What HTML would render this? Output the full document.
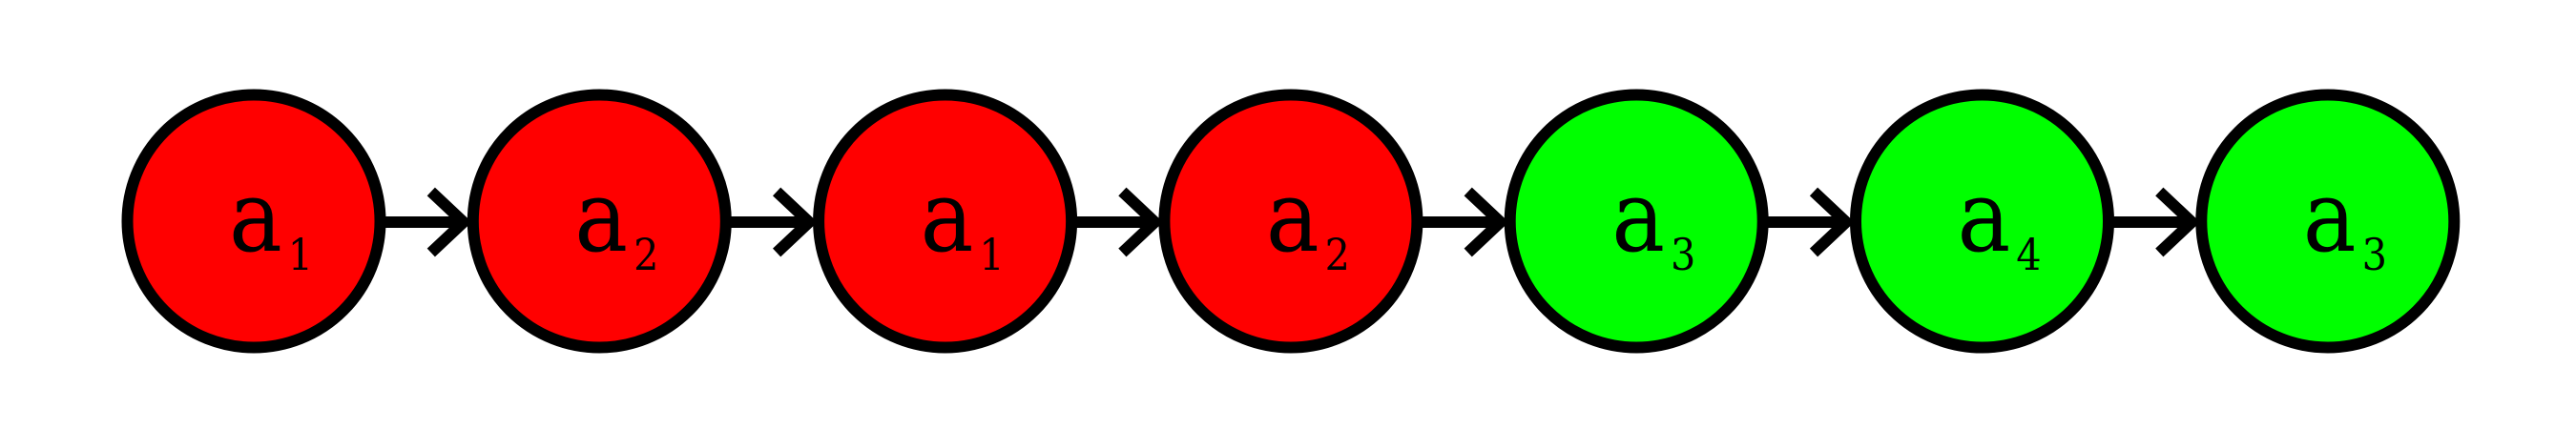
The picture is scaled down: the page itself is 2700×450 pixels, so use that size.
<!DOCTYPE html>
<html><head><meta charset="utf-8"><style>html,body{margin:0;padding:0;background:#fff}svg{display:block}</style></head>
<body>
<svg id="chart" width="2700" height="450" viewBox="0 0 2700 450" xmlns="http://www.w3.org/2000/svg"></svg>
<script>
const labels = ["1","2","1","2","3","4","3"];
const colors = ["#ff0000","#ff0000","#ff0000","#ff0000","#00ff00","#00ff00","#00ff00"];
const svg = document.getElementById('chart');
const NS = 'http://www.w3.org/2000/svg';
const x0 = 266, dx = 362.3, cy = 232, r = 132.5, outer = 138.5;
function cxOf(i){ return x0 + dx*i; }
for (let i = 0; i < labels.length - 1; i++) {
  const g = document.createElementNS(NS,'g');
  
  
  const xs = cxOf(i) + outer - 2, xe = cxOf(i+1) - outer;
  const line = document.createElementNS(NS,'line');
  line.setAttribute('x1', xs); line.setAttribute('y1', cy+1);
  line.setAttribute('x2', xe - 4); line.setAttribute('y2', cy+1);
  line.setAttribute('stroke', '#000'); line.setAttribute('stroke-width', 12);
  g.appendChild(line);
  const head = document.createElementNS(NS,'polyline');
  head.setAttribute('points', `${xe-38},${cy-31} ${xe-4},${cy+1} ${xe-38},${cy+33}`);
  head.setAttribute('fill', 'none'); head.setAttribute('stroke', '#000'); head.setAttribute('stroke-width', 12);
  g.appendChild(head);
  svg.appendChild(g);
}
labels.forEach((lab, i) => {
  const g = document.createElementNS(NS,'g');
  
  
  const c = document.createElementNS(NS,'circle');
  c.setAttribute('cx', cxOf(i)); c.setAttribute('cy', cy); c.setAttribute('r', r);
  c.setAttribute('fill', colors[i]); c.setAttribute('stroke', '#000'); c.setAttribute('stroke-width', 12);
  g.appendChild(c);
  const t = document.createElementNS(NS,'text');
  t.setAttribute('x', cxOf(i) - 26); t.setAttribute('y', 263);
  t.setAttribute('font-family', '"DejaVu Serif", "Liberation Serif", serif');
  t.setAttribute('font-size', '104');
  t.setAttribute('font-stretch', 'condensed');
  t.setAttribute('fill', '#000');
  
  
  t.appendChild(document.createTextNode('a'));
  const s = document.createElementNS(NS,'tspan');
  s.setAttribute('font-size', '46'); s.setAttribute('dy', '20'); s.setAttribute('dx', '6');
  s.textContent = lab;
  t.appendChild(s);
  g.appendChild(t);
  svg.appendChild(g);
});
</script>
</body></html>
